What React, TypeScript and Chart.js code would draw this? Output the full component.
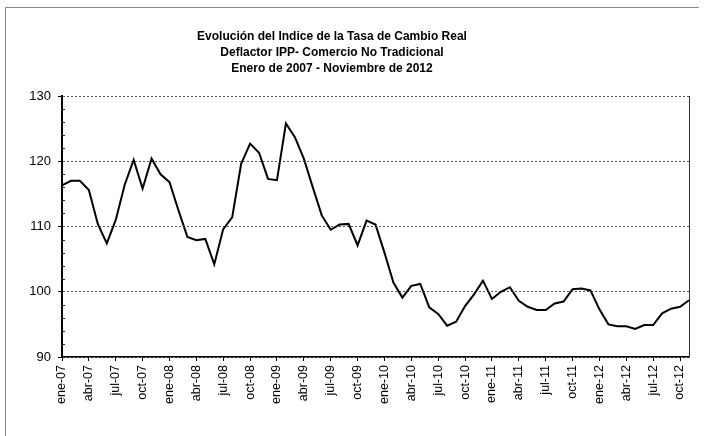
import React, { useEffect, useRef } from "react";
import { Chart, registerables } from "chart.js";

Chart.register(...registerables);

const titleLines: string[] = [
  "Evolución del Indice de la Tasa de Cambio Real",
  "Deflactor IPP- Comercio No Tradicional",
  "Enero de 2007 - Noviembre de 2012",
];

const months: string[] = [
  "ene-07", "feb-07", "mar-07", "abr-07", "may-07", "jun-07", "jul-07", "ago-07", "sep-07", "oct-07", "nov-07", "dic-07",
  "ene-08", "feb-08", "mar-08", "abr-08", "may-08", "jun-08", "jul-08", "ago-08", "sep-08", "oct-08", "nov-08", "dic-08",
  "ene-09", "feb-09", "mar-09", "abr-09", "may-09", "jun-09", "jul-09", "ago-09", "sep-09", "oct-09", "nov-09", "dic-09",
  "ene-10", "feb-10", "mar-10", "abr-10", "may-10", "jun-10", "jul-10", "ago-10", "sep-10", "oct-10", "nov-10", "dic-10",
  "ene-11", "feb-11", "mar-11", "abr-11", "may-11", "jun-11", "jul-11", "ago-11", "sep-11", "oct-11", "nov-11", "dic-11",
  "ene-12", "feb-12", "mar-12", "abr-12", "may-12", "jun-12", "jul-12", "ago-12", "sep-12", "oct-12", "nov-12",
];

const itcr: number[] = [
  116.3, 117.0, 117.0, 115.6, 110.4, 107.4, 111.0, 116.4, 120.2, 115.8, 120.4, 118.0,
  116.8, 112.5, 108.4, 107.9, 108.1, 104.2, 109.6, 111.4, 119.6, 122.7, 121.3, 117.3,
  117.1, 125.8, 123.7, 120.4, 116.0, 111.7, 109.5, 110.3, 110.4, 107.1, 110.9, 110.3,
  106.0, 101.4, 99.1, 100.9, 101.2, 97.6, 96.6, 94.8, 95.4, 97.8, 99.6, 101.7,
  98.9, 100.0, 100.7, 98.6, 97.7, 97.2, 97.2, 98.2, 98.5, 100.4, 100.5, 100.2,
  97.3, 95.0, 94.7, 94.7, 94.3, 94.9, 94.9, 96.7, 97.4, 97.7, 98.7,
];

const yMin = 90;
const yMax = 130;
const yStep = 10;
const yMinorStep = 2;
const labelEvery = 3;

const FONT = "'Liberation Sans', Arial, sans-serif";

const framePlugin = {
  id: "frameExtras",
  afterDatasetsDraw(chart: any) {
    const { ctx, chartArea, scales } = chart;
    ctx.save();
    ctx.strokeStyle = "#333";
    ctx.lineWidth = 1;
    ctx.beginPath();
    ctx.moveTo(Math.round(chartArea.right) + 0.5, chartArea.top);
    ctx.lineTo(Math.round(chartArea.right) + 0.5, chartArea.bottom);
    ctx.stroke();
    const y = scales.y;
    ctx.strokeStyle = "#222";
    for (let v = yMin; v <= yMax; v += yMinorStep) {
      if (v % yStep === 0) continue;
      const py = Math.round(y.getPixelForValue(v)) + 0.5;
      ctx.beginPath();
      ctx.moveTo(chartArea.left, py);
      ctx.lineTo(chartArea.left + 3, py);
      ctx.stroke();
    }
    ctx.restore();
  },
};

function ChartCanvas() {
  const ref = useRef<HTMLCanvasElement | null>(null);
  useEffect(() => {
    if (!ref.current) return;
    const chart = new Chart(ref.current, {
      type: "line",
      data: {
        labels: months,
        datasets: [
          {
            data: itcr,
            borderColor: "#000",
            borderWidth: 2,
            pointRadius: 0,
            tension: 0,
            fill: false,
          },
        ],
      },
      options: {
        responsive: false,
        animation: false,
        events: [],
        layout: { padding: { left: 0, top: 96, right: 20, bottom: 0 } },
        plugins: { legend: { display: false }, title: { display: false }, tooltip: { enabled: false } },
        scales: {
          x: {
            type: "category",
            offset: false,
            afterFit: (s: any) => {
              s.height = 79;
            },
            grid: {
              drawOnChartArea: false,
              drawTicks: true,
              tickLength: 4,
              offset: false,
              color: (c: any) => (c.index % labelEvery === 0 ? "#000" : "rgba(0,0,0,0)"),
            },
            border: { display: true, color: "#000", width: 1.5 },
            ticks: {
              autoSkip: false,
              minRotation: 90,
              maxRotation: 90,
              padding: 4,
              color: "#000",
              font: { family: FONT, size: 12.5 },
              callback: (_v: any, i: number) => (i % labelEvery === 0 ? months[i] : ""),
            },
          },
          y: {
            min: yMin,
            max: yMax,
            afterFit: (s: any) => {
              s.width = 62;
            },
            grid: {
              color: "#555",
              lineWidth: 1,
              drawTicks: true,
              tickLength: 4,
              tickColor: "#000",
            },
            border: { display: true, color: "#000", width: 2, dash: [2, 2] },
            ticks: {
              stepSize: yStep,
              padding: 7,
              color: "#000",
              font: { family: FONT, size: 13 },
            },
          },
        },
      },
      plugins: [framePlugin],
    });
    return () => chart.destroy();
  }, []);
  return <canvas ref={ref} width={709} height={436} style={{ display: "block", width: 709, height: 436 }} />;
}

export default function App() {
  return (
    <div
      style={{
        position: "fixed",
        left: 0,
        top: 0,
        width: 709,
        height: 436,
        background: "#fff",
        overflow: "hidden",
      }}
    >
      <ChartCanvas />
      <div
        style={{
          position: "absolute",
          left: 5,
          top: 7,
          width: 693,
          height: 440,
          borderTop: "1px solid #888",
          borderLeft: "1px solid #888",
          pointerEvents: "none",
        }}
      />
      <div
        style={{
          position: "absolute",
          left: 0,
          top: 28,
          width: 664,
          textAlign: "center",
          fontFamily: FONT,
          fontWeight: "bold",
          fontSize: 12,
          lineHeight: "16px",
          color: "#000",
        }}
      >
        {titleLines.map((t) => (
          <div key={t}>{t}</div>
        ))}
      </div>
    </div>
  );
}
